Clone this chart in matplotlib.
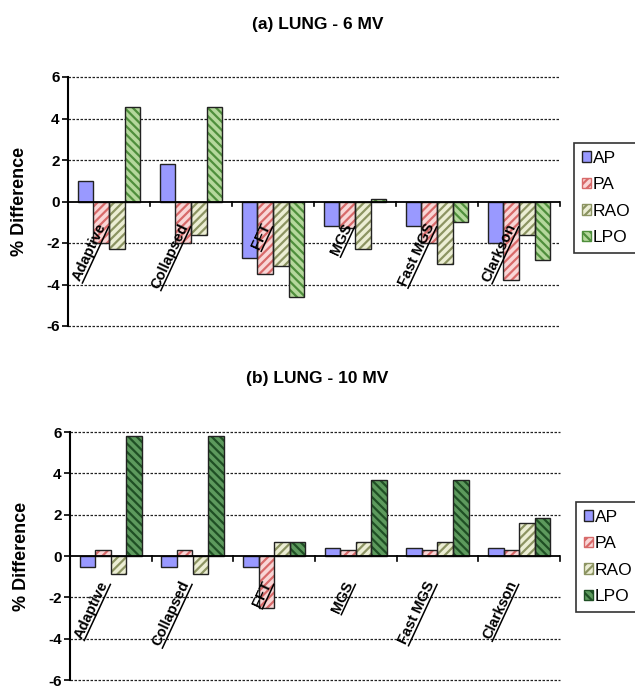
import numpy as np
import matplotlib
matplotlib.use("Agg")
import matplotlib.pyplot as plt
from matplotlib.lines import Line2D
from matplotlib.patches import Patch

plt.rcParams['font.family'] = ['Liberation Sans', 'DejaVu Sans']
plt.rcParams['hatch.linewidth'] = 1.6

categories = ["Adaptive", "Collapsed", "FFT", "MGS", "Fast MGS", "Clarkson"]
series = ["AP", "PA", "RAO", "LPO"]

mv6_AP = [1.0, 1.8, -2.7, -1.2, -1.2, -2.0]
mv6_PA = [-2.0, -2.0, -3.5, -1.3, -2.0, -3.8]
mv6_RAO = [-2.3, -1.6, -3.1, -2.3, -3.0, -1.6]
mv6_LPO = [4.55, 4.55, -4.6, 0.1, -1.0, -2.8]

mv10_AP = [-0.55, -0.55, -0.55, 0.4, 0.4, 0.4]
mv10_PA = [0.3, 0.3, -2.5, 0.3, 0.3, 0.3]
mv10_RAO = [-0.85, -0.85, 0.7, 0.7, 0.7, 1.6]
mv10_LPO = [5.8, 5.8, 0.7, 3.7, 3.7, 1.85]

yticks = [-6, -4, -2, 0, 2, 4, 6]

W, H = 635, 688
fig = plt.figure(figsize=(W / 100, H / 100), dpi=100)

# styles: (face, hatch, hatch colour)
styles_top = [("#9999ff", None, None),
              ("#f9d6d6", "////", "#d86a6a"),
              ("#eceed4", "////", "#8c9462"),
              ("#b5d89c", "\\\\\\\\", "#4f8f3c")]
styles_bot = [("#9999ff", None, None),
              ("#f9d6d6", "////", "#d86a6a"),
              ("#eceed4", "////", "#8c9462"),
              ("#5d9a5d", "\\\\\\\\", "#1f4f24")]


def px_rect(left, right, top, bottom):
    return [left / W, 1 - bottom / H, (right - left) / W, (bottom - top) / H]


def draw_panel(rect, data, styles, title, title_y, legend_xy, label_y):
    ax = fig.add_axes(rect)
    n = len(categories)
    x = np.arange(n)
    bw = 0.19
    for j, (vals, (fc, hatch, hc)) in enumerate(zip(data, styles)):
        pos = x + (j - 1.5) * bw
        if hatch:
            ax.bar(pos, vals, bw, color=fc, hatch=hatch, edgecolor=hc,
                   linewidth=0, zorder=2)
            ax.bar(pos, vals, bw, fill=False, edgecolor="#222222",
                   linewidth=1.0, zorder=3)
        else:
            ax.bar(pos, vals, bw, color=fc, edgecolor="#222222",
                   linewidth=1.0, zorder=3)
    ax.set_xlim(-0.5, n - 0.5)
    ax.set_ylim(-6, 6)
    ax.set_yticks(yticks)
    ax.set_yticklabels([str(v) for v in yticks], fontsize=11, fontweight='bold')
    ax.tick_params(axis='y', length=4, width=1.2, pad=2)
    ax.set_xticks([])
    for s in ["top", "right", "bottom"]:
        ax.spines[s].set_visible(False)
    ax.spines["left"].set_linewidth(1.5)
    for v in yticks:
        if v != 0:
            ax.axhline(v, color="#222222", lw=0.9, ls=(0, (2.0, 1.2)),
                       zorder=1, clip_on=False)
    ax.axhline(0, color="black", lw=1.3, zorder=4)
    for b in np.arange(0.5, n + 0.5, 1.0):
        ax.plot([b, b], [0, -0.22], color="black", lw=1.2, zorder=4,
                clip_on=False)
    ax.set_ylabel("% Difference", fontsize=13, fontweight='bold')
    ax.yaxis.set_label_coords(-0.082, 0.5)
    texts = []
    for i, c in enumerate(categories):
        t = ax.text(i, label_y, c, rotation=65, ha='right', va='top',
                    fontsize=10.5, fontweight='bold', zorder=6)
        texts.append(t)
    fig.text(0.5, 1 - title_y / H, title, ha='center', va='center',
             fontsize=12.5, fontweight='bold')
    handles = [Patch(facecolor=fc, edgecolor=(hc if hc else "#222222"),
                     hatch=hatch, linewidth=1.0) for fc, hatch, hc in styles]
    leg = fig.legend(handles, series, loc='upper left',
                     bbox_to_anchor=(legend_xy[0] / W, 1 - legend_xy[1] / H),
                     fontsize=12.5, frameon=True, fancybox=False,
                     edgecolor="black", handlelength=0.55, handleheight=0.55,
                     handletextpad=0.1, borderpad=0.45, labelspacing=0.66,
                     borderaxespad=0)
    leg.get_frame().set_linewidth(1.2)
    return ax, texts


ax1, t1 = draw_panel(px_rect(68, 560, 77, 326),
                     [mv6_AP, mv6_PA, mv6_RAO, mv6_LPO], styles_top,
                     "(a) LUNG - 6 MV", 24, (574, 143), -0.95)
ax2, t2 = draw_panel(px_rect(70, 560, 432, 680),
                     [mv10_AP, mv10_PA, mv10_RAO, mv10_LPO], styles_bot,
                     "(b) LUNG - 10 MV", 378, (576, 502), -1.1)

# underline the rotated category labels
fig.canvas.draw()
th = np.deg2rad(65)
c, s = np.cos(th), np.sin(th)
inv = fig.transFigure.inverted()
for t in t1 + t2:
    bb = t.get_window_extent()
    w, h = bb.width, bb.height
    det = c * c - s * s
    L = (w * c - h * s) / det
    Ht = (h * c - w * s) / det
    ox, oy = bb.x0 + Ht * s, bb.y0
    d = -0.5
    p0 = (ox + s * d, oy - c * d)
    p1 = (p0[0] + L * c, p0[1] + L * s)
    q0 = inv.transform(p0)
    q1 = inv.transform(p1)
    fig.add_artist(Line2D([q0[0], q1[0]], [q0[1], q1[1]], color="black",
                          lw=1.1, transform=fig.transFigure, zorder=7))

fig.savefig("out.png", dpi=100)
